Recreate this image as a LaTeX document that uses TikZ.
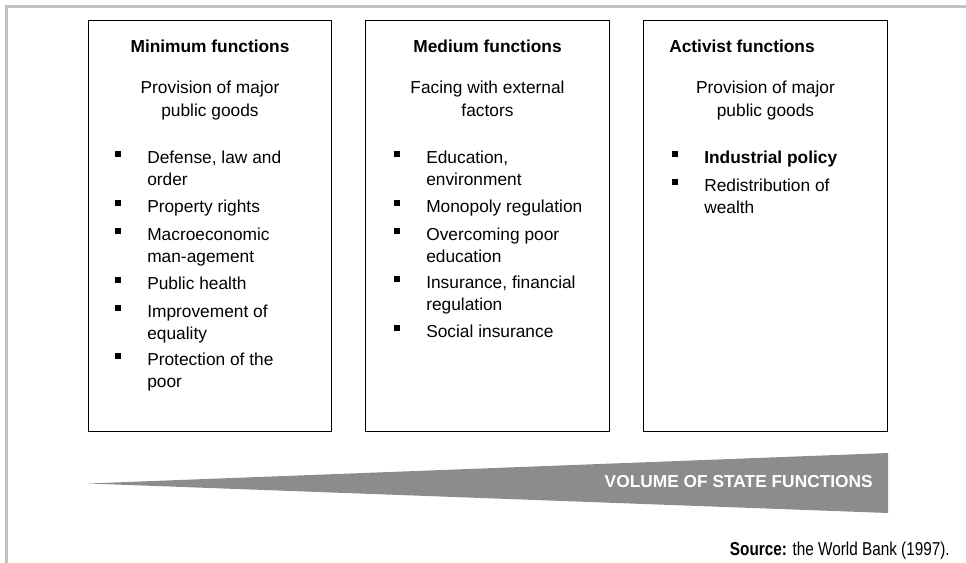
\documentclass[tikz,border=0pt]{standalone}
\usepackage{fontspec}
\setmainfont{Liberation Sans}
\newfontfamily\narrowfont[FakeStretch=0.82]{Liberation Sans}
\usetikzlibrary{positioning}

\definecolor{framegray}{HTML}{C2C2C2}
\definecolor{wedgegray}{HTML}{8C8C8C}

% lines stacked from the first baseline down
\newcommand{\leftlines}[1]{\begin{tabular}[t]{@{}l@{}}#1\end{tabular}}
\newcommand{\midlines}[1]{\begin{tabular}[t]{@{}c@{}}#1\end{tabular}}

% name, x, baseline y, text
\newcommand{\fnitem}[4]{%
  \node [entry] (#1) at (#2,#3) {\leftlines{#4}};
  \node [sqbullet] (#1-b) at (#2-29,#3-9) {};
}

\begin{document}
\begin{tikzpicture}
    [ x=0.75pt, y=-0.75pt
    , every node/.style={font=\fontsize{13pt}{16.9pt}\selectfont}
    , fbox/.style={draw,shape=rectangle,line width=0.75pt,minimum width=182.6pt,minimum height=307.5pt,inner sep=0}
    , title/.style={font=\fontsize{13pt}{16.9pt}\selectfont\bfseries,inner sep=0}
    , subtitle/.style={inner sep=0,anchor=base}
    , entry/.style={anchor=base west,inner sep=0}
    , sqbullet/.style={fill=black,shape=rectangle,minimum size=4.5pt,inner sep=0}
    , frame/.style={draw=framegray,line width=2.25pt}
    ]

    \useasboundingbox (0,0) rectangle (966,563);
    \path [frame] (6.5,563) -- (6.5,6.5) -- (966,6.5);

    \node [fbox] (minbox) at (210,226)   {};
    \node [fbox] (medbox) at (487.5,226) {};
    \node [fbox] (actbox) at (765.5,226) {};

    % minimum functions
    \node [title, anchor=base] (mintitle) at (210,53) {Minimum functions};
    \node [subtitle] (minsub) at (210,94) {\midlines{Provision of major\\public goods}};
    \fnitem{min1}{147}{163}{Defense, law and\\order}
    \fnitem{min2}{147}{212}{Property rights}
    \fnitem{min3}{147}{240}{Macroeconomic\\man-agement}
    \fnitem{min4}{147}{289}{Public health}
    \fnitem{min5}{147}{317}{Improvement of\\equality}
    \fnitem{min6}{147}{365}{Protection of the\\poor}

    % medium functions
    \node [title, anchor=base] (medtitle) at (487.5,53) {Medium functions};
    \node [subtitle] (medsub) at (487.5,94) {\midlines{Facing with external\\factors}};
    \fnitem{med1}{426}{163}{Education,\\environment}
    \fnitem{med2}{426}{212}{Monopoly regulation}
    \fnitem{med3}{426}{240}{Overcoming poor\\education}
    \fnitem{med4}{426}{288}{Insurance, financial\\regulation}
    \fnitem{med5}{426}{337}{Social insurance}

    % activist functions
    \node [title, anchor=base west] (acttitle) at (669,53) {Activist functions};
    \node [subtitle] (actsub) at (765.5,94) {\midlines{Provision of major\\public goods}};
    \fnitem{act1}{704}{163}{\textbf{Industrial policy}}
    \fnitem{act2}{704}{191}{Redistribution of\\wealth}

    \fill [wedgegray] (88,483.5) -- (888,453) -- (888,513) -- cycle;
    \node [anchor=base east, inner sep=0, text=white, font=\fontsize{13pt}{16pt}\selectfont\bfseries]
      (volume) at (873,487) {VOLUME OF STATE FUNCTIONS};

    \node [anchor=base east, inner sep=0, font=\narrowfont\fontsize{14pt}{17pt}\selectfont]
      (source) at (950,555) {\textbf{Source:} the World Bank (1997).};

  \end{tikzpicture}
\end{document}
